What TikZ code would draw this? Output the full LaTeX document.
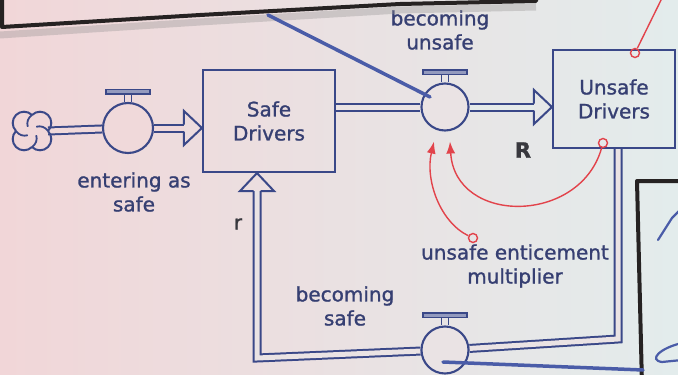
\documentclass[tikz,border=0pt]{standalone}
\usepackage{fontspec}
\setmainfont{DejaVu Sans}[FakeBold=1.2]
\usetikzlibrary{arrows.meta,positioning,calc,backgrounds}
\definecolor{cInk}{HTML}{3A4888}
\definecolor{cText}{HTML}{363F72}
\definecolor{cLoop}{HTML}{38383E}
\definecolor{cRed}{HTML}{E2434B}
\definecolor{cFrame}{HTML}{262222}
\definecolor{cPen}{HTML}{4A5CA8}
\definecolor{cPaperL}{HTML}{F1D6D8}
\definecolor{cPaperR}{HTML}{E3ECEC}
\definecolor{cPipeL}{HTML}{F0D9DA}
\definecolor{cPipeM}{HTML}{EAE3E4}
\definecolor{cPipeR}{HTML}{E5EAEA}
\pgfdeclarelayer{paper}
\pgfsetlayers{paper,background,main}
\tikzset{
  font=\fontsize{20}{24}\selectfont,
  stock/.style={draw=cInk, line width=2.1pt, align=center, text=cText, inner sep=0},
  valve/.style={circle, draw=cInk, line width=2.1pt, fill=#1, minimum size=47pt, inner sep=0},
  valve/.default=cPipeM,
  pipe/.style={draw=cInk, line width=2pt, double=#1, double distance=5pt},
  pipe/.default=cPipeM,
  head/.style={draw=cInk, line width=2pt, line join=miter},
  lbl/.style={align=center, text=cText, inner sep=0},
  link/.style={draw=cRed, line width=1.4pt, -{Latex[length=12pt,width=9pt]}},
  linkdot/.style={circle, draw=cRed, line width=1.4pt, minimum size=9pt, inner sep=0},
  frame/.style={draw=cFrame, line width=4pt, line join=round},
  pen/.style={draw=cPen, line width=3.5pt, line cap=round},
  pics/inhead/.style={code={\draw[head] (-18,3.5) -- (-18,17) -- (0,0) -- (-18,-17) -- (-18,-3.5);}},
}
\newcommand{\valvetop}[1]{%
  \draw[cInk, line width=1.7pt] ($(#1.north)+(-3.5,0)$) -- ++(0,8) ($(#1.north)+(3.5,0)$) -- ++(0,8);
  \draw[cInk, line width=1.7pt, fill=cInk!55] ($(#1.north)+(-22,8)$) rectangle ($(#1.north)+(22,12.5)$);}

\begin{document}
\begin{tikzpicture}[x=1pt, y=1pt]
  \useasboundingbox (0,0) rectangle (678,-375);
  \begin{pgfonlayer}{paper}
    \fill[left color=cPaperL, right color=cPaperR] (0,0) rectangle (678,-375);
  \end{pgfonlayer}
  % stocks
  \node[stock, minimum width=132pt, minimum height=102pt] (safe) at (269,-121) {Safe\\Drivers};
  \node[stock, minimum width=122pt, minimum height=98pt] (unsafe) at (614,-99) {Unsafe\\Drivers};
  % valves
  \node[valve=cPipeL, minimum size=50pt] (v1) at (128,-128) {};
  \node[valve] (v2) at (445,-107) {};
  \node[valve] (v3) at (445,-350) {};
  \foreach \v in {v1,v2,v3} \valvetop{\v};
  % source cloud
  \coordinate (src) at (32,-131);
  \coordinate (srcR) at ($(src)+(16,0)$);
  \foreach \a in {0,90,180,270} {
    \draw[cInk, line width=2pt] ($(src)+(\a:16)$) arc[start angle=\a-45, delta angle=180, radius=11.3];
    \draw[cInk, line width=1.8pt] ($(src)+(\a:16)$) to[bend right=35] ($(src)+(\a+45:6)$);
  }
  % corners of the lower pipe
  \coordinate (cR) at (618,-339);
  \coordinate (cL) at (257,-358);
  % pipes (behind valves)
  \begin{scope}[on background layer]
    \draw[pipe=cPipeL] (srcR) -- (v1);
    \draw[pipe=cPipeL] (v1) -- ($(safe.west |- v1)+(-18,0)$);
    \draw[pipe] (safe.east |- v2) -- (v2);
    \draw[pipe=cPipeR] (v2) -- ($(unsafe.west |- v2)+(-18,0)$);
    \draw[pipe] (unsafe.south -| cR) -- (cR) -- (v3) -- (cL) -- ($(safe.south -| cL)+(0,-18)$);
  \end{scope}
  \pic at (safe.west |- v1) {inhead};
  \pic at (unsafe.west |- v2) {inhead};
  \pic[rotate=90] at (safe.south -| cL) {inhead};
  % labels
  \node[lbl] (lEnter) at (134,-192) {entering as\\safe};
  \node[lbl] (lUnsafe) at (440,-30) {becoming\\unsafe};
  \node[lbl] (lSafe) at (345,-306) {becoming\\safe};
  \node[lbl] (mult) at (515,-266) {unsafe enticement\\multiplier};
  \node[font=\bfseries\fontsize{21}{24}\selectfont, text=cLoop] (loopR) at (523,-150) {R};
  \node[text=cLoop] (loopr) at (238,-224) {r};
  % information links
  \node[linkdot] (o1) at (603,-143) {};
  \node[linkdot] (o2) at (473,-238) {};
  \node[linkdot] (o3) at (635,-53) {};
  \coordinate (t1) at ($(v2.south)+(5,-10)$);
  \coordinate (t2) at ($(v2.south)+(-11,-10)$);
  \coordinate (off) at (664,6);
  \draw[link] (o1) .. controls (580,-225) and (455,-225) .. (t1);
  \draw[link] (o2) .. controls (440,-222) and (425,-180) .. (t2);
  \draw[link, -] (o3) -- (off);
  % frames and pen marks on the sheet
  \draw[cFrame!50, line width=7pt, opacity=.35] (0,-35) -- (200,-22) -- (400,-10) -- (536,-7);
  \draw[frame] (2,8) -- (2,-27) -- (200,-15) -- (400,-4) -- (536,-1) -- (537,8);
  \draw[frame] (690,-181) -- (637,-181) -- (642,-385);
  \draw[pen] (268,-15) -- ($(v2)+(-15,10)$);
  \draw[pen] ($(v3)+(-2,-12)$) -- (643,-370);
  \draw[pen, line width=2.2pt] (658,-240) -- (672,-218) -- (682,-208);
  \draw[pen, line width=2.2pt] (682,-343) .. controls (660,-348) and (648,-360) .. (662,-362) -- (682,-360);
\end{tikzpicture}
\end{document}
